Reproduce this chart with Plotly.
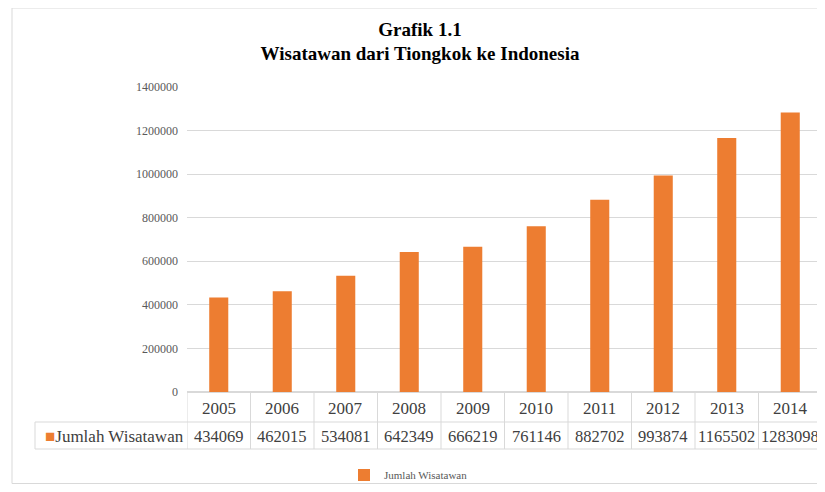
import plotly.graph_objects as go

years = ["2005", "2006", "2007", "2008", "2009", "2010", "2011", "2012", "2013", "2014"]
visitors = [434069, 462015, 534081, 642349, 666219, 761146, 882702, 993874, 1165502, 1283098]
series_name = "Jumlah Wisatawan"
title_line1 = "Grafik 1.1"
title_line2 = "Wisatawan dari Tiongkok ke Indonesia"

OFF = 8  # page body margin
W, H = 825 - OFF, 492 - 2 * OFF
L, R, T = 187 - OFF, 3, 87 - OFF
B = H - (392 - OFF)
pw = W - L - R
ph = H - T - B

def py(sy):  # screen pixel y -> paper y
    return (H - B - (sy - OFF)) / ph

def px(sx):  # screen pixel x -> paper x
    return (sx - OFF - L) / pw

ORANGE = "#ED7D31"
GRID = "#D9D9D9"
SERIF = "Liberation Serif, Times New Roman, serif"
TXT = "#404040"

fig = go.Figure()
fig.add_trace(go.Bar(x=years, y=visitors, name=series_name, marker_color=ORANGE,
                     marker_line_width=0, showlegend=True))

shapes = []
annotations = []

# Outer chart border
shapes.append(dict(type="rect", xref="paper", yref="paper", x0=px(12), x1=px(840),
                   y0=py(483.5), y1=py(8), line=dict(color=GRID, width=1), layer="below"))

# Data table lines
line_style = dict(color=GRID, width=1)
y_mid = py(422)
y_bot = py(449)
for i in range(len(years) + 1):
    shapes.append(dict(type="line", xref="x", yref="paper", x0=i - 0.5, x1=i - 0.5,
                       y0=0, y1=y_bot, line=line_style))
for yy in (y_mid, y_bot):
    shapes.append(dict(type="line", xref="paper", yref="paper", x0=px(35), x1=1,
                       y0=yy, y1=yy, line=line_style))
shapes.append(dict(type="line", xref="paper", yref="paper", x0=px(35), x1=px(35),
                   y0=y_mid, y1=y_bot, line=line_style))

# Table text
for i, (yr, v) in enumerate(zip(years, visitors)):
    annotations.append(dict(x=i, xref="x", y=py(408), yref="paper", yanchor="middle",
                            xanchor="center", text=yr, showarrow=False,
                            font=dict(family=SERIF, size=17, color=TXT)))
    annotations.append(dict(x=i, xref="x", y=py(436), yref="paper", yanchor="middle",
                            xanchor="center", text=str(v), showarrow=False,
                            font=dict(family=SERIF, size=16.5, color=TXT)))
annotations.append(dict(x=px(186), xref="paper", y=py(436), yref="paper", xanchor="right",
                        yanchor="middle",
                        text=f"<span style='color:{ORANGE}'>■</span>{series_name}",
                        showarrow=False, font=dict(family=SERIF, size=17, color=TXT)))

fig.update_layout(
    width=W, height=H,
    margin=dict(l=L, r=R, t=T, b=B, autoexpand=False),
    paper_bgcolor="white", plot_bgcolor="white",
    title=dict(text=f"<b>{title_line1}</b><br><b>{title_line2}</b>",
               x=(420 - OFF) / W, xref="container", xanchor="center",
               y=1 - 27.5 / H, yref="container", yanchor="middle",
               font=dict(family=SERIF, size=19, color="#000000")),
    bargap=0.7,
    xaxis=dict(type="category", showticklabels=False, showgrid=False, zeroline=False,
               showline=False, ticks="", range=[-0.5, 9.5]),
    yaxis=dict(range=[0, 1400000], dtick=200000, showgrid=True, gridcolor=GRID, gridwidth=1,
               zeroline=True, zerolinecolor=GRID, showline=False, ticks="",
               tickformat="d", ticklabelstandoff=8,
               tickfont=dict(family=SERIF, size=12, color="#595959")),
    showlegend=True,
    legend=dict(orientation="h", xref="container", yref="container",
                x=(344 - OFF) / W, xanchor="left", y=1 - (475 - OFF) / H, yanchor="middle",
                font=dict(family=SERIF, size=11, color="#595959"), bgcolor="rgba(0,0,0,0)",
                itemwidth=30),
    shapes=shapes,
    annotations=annotations,
)

fig.write_html("out.html")
